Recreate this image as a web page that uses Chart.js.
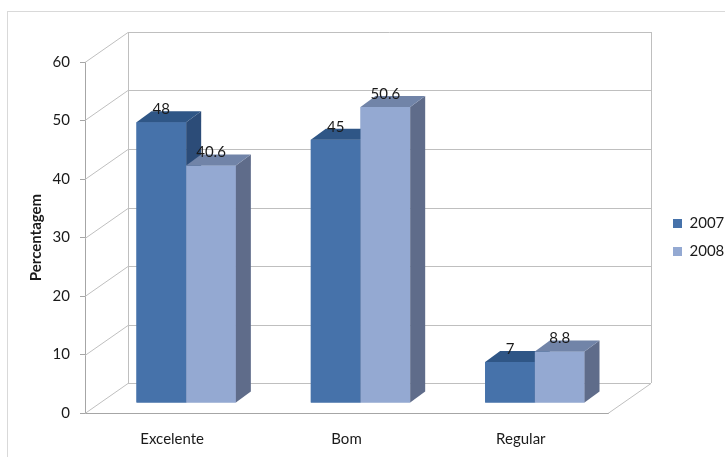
<!DOCTYPE html>
<html>
<head>
<meta charset="utf-8">
<script src="https://cdn.jsdelivr.net/npm/chart.js@4.4.1/dist/chart.umd.min.js"></script>
<style>
  body { margin: 0; background: #fff; }
  #wrap { width: 725px; height: 457px; }
</style>
</head>
<body>
<div id="wrap"><canvas id="grafico" width="725" height="457"></canvas></div>
<script>
// Dados do gráfico
const categorias = ['Excelente', 'Bom', 'Regular'];
const anos = ['2007', '2008'];
const valores2007 = [48, 45, 7];
const valores2008 = [40.6, 50.6, 8.8];
const marcasY = [0, 10, 20, 30, 40, 50, 60];

const FONTE = 'Lato, "Open Sans", sans-serif';
const COR_TEXTO = '#1a1a1a';
const COR_GRADE = '#bfbfbf';
const COR_EIXO = '#a6a6a6';

// profundidade total da caixa 3D e posição das barras nela
const PROF = { dx: 43, dy: -30 };
const PLANO_BARRAS = { dx: 14, dy: -10 };
const PROF_BARRA = { dx: 15, dy: -11 };

const cores = [
  { frente: '#4672aa', topo: '#2f5686', lado: '#2c4c78' },
  { frente: '#94a9d2', topo: '#7184a8', lado: '#5f6c8a' }
];

function faces3d(ctx, bar, cor) {
  const { x, y, base, width } = bar.getProps(['x', 'y', 'base', 'width'], true);
  const esq = x - width / 2;
  const dir = x + width / 2;
  const { dx, dy } = PROF_BARRA;
  ctx.fillStyle = cor.lado;
  ctx.beginPath();
  ctx.moveTo(dir, y);
  ctx.lineTo(dir + dx, y + dy);
  ctx.lineTo(dir + dx, base + dy);
  ctx.lineTo(dir, base);
  ctx.closePath();
  ctx.fill();
  ctx.fillStyle = cor.topo;
  ctx.beginPath();
  ctx.moveTo(esq, y);
  ctx.lineTo(esq + dx, y + dy);
  ctx.lineTo(dir + dx, y + dy);
  ctx.lineTo(dir, y);
  ctx.closePath();
  ctx.fill();
}

// Desenha paredes, chão e faces laterais/topo das barras
const caixa3d = {
  id: 'caixa3d',
  beforeDraw(chart) {
    const ctx = chart.ctx;
    ctx.save();
    ctx.strokeStyle = '#d9d9d9';
    ctx.lineWidth = 1;
    ctx.strokeRect(7.5, 11.5, 900, 600);
    ctx.restore();
  },
  beforeDatasetsDraw(chart) {
    const { ctx, chartArea: a, scales: { y } } = chart;
    ctx.save();
    ctx.strokeStyle = COR_GRADE;
    ctx.lineWidth = 1;
    ctx.beginPath();
    marcasY.forEach(v => {
      const py = Math.round(y.getPixelForValue(v)) + 0.5;
      // linha na parede do fundo
      ctx.moveTo(a.left + PROF.dx, py + PROF.dy);
      ctx.lineTo(a.right + PROF.dx, py + PROF.dy);
      // linha na parede lateral
      ctx.moveTo(a.left, py);
      ctx.lineTo(a.left + PROF.dx, py + PROF.dy);
    });
    const topo = Math.round(y.getPixelForValue(60)) + PROF.dy;
    const base = Math.round(y.getPixelForValue(0)) + PROF.dy;
    ctx.moveTo(a.left + PROF.dx + 0.5, topo);
    ctx.lineTo(a.left + PROF.dx + 0.5, base);
    ctx.moveTo(a.right + PROF.dx + 0.5, topo);
    ctx.lineTo(a.right + PROF.dx + 0.5, base);
    // aresta direita do chão
    ctx.moveTo(a.right, a.bottom + 0.5);
    ctx.lineTo(a.right + PROF.dx, a.bottom + 0.5 + PROF.dy);
    ctx.stroke();
    ctx.restore();

    // as barras ficam no plano do meio da caixa
    ctx.save();
    ctx.translate(PLANO_BARRAS.dx, PLANO_BARRAS.dy);
  },
  afterDatasetsDraw(chart) {
    const ctx = chart.ctx;
    const n = chart.data.labels.length;
    // redesenha cada grupo da esquerda para a direita, com as faces 3D
    for (let j = 0; j < n; j++) {
      chart.data.datasets.forEach((ds, i) => {
        const bar = chart.getDatasetMeta(i).data[j];
        bar.draw(ctx);
        faces3d(ctx, bar, cores[i]);
      });
    }
    // rótulos com os valores
    ctx.font = '15px ' + FONTE;
    ctx.fillStyle = COR_TEXTO;
    ctx.textAlign = 'center';
    ctx.textBaseline = 'middle';
    chart.data.datasets.forEach((ds, i) => {
      chart.getDatasetMeta(i).data.forEach((bar, j) => {
        ctx.fillText(String(ds.data[j]), bar.x, bar.y - 13);
      });
    });
    ctx.restore();
  }
};

new Chart(document.getElementById('grafico'), {
  type: 'bar',
  data: {
    labels: categorias,
    datasets: [
      { label: anos[0], data: valores2007, backgroundColor: cores[0].frente, clip: false },
      { label: anos[1], data: valores2008, backgroundColor: cores[1].frente, clip: false }
    ]
  },
  options: {
    responsive: false,
    animation: false,
    layout: { padding: { top: 62, left: 0, right: 0, bottom: 0 } },
    categoryPercentage: 0.57,
    barPercentage: 1,
    scales: {
      x: {
        grid: { display: false, drawTicks: false },
        border: { display: true, color: COR_EIXO },
        ticks: { padding: 17, color: COR_TEXTO, font: { family: FONTE, size: 15 } },
        afterFit(s) { s.height = 44; }
      },
      y: {
        min: 0,
        max: 60,
        ticks: { stepSize: 10, padding: 10, color: COR_TEXTO, font: { family: FONTE, size: 15 } },
        grid: { display: true, drawOnChartArea: false, drawTicks: true, tickLength: 5, color: COR_EIXO },
        border: { display: true, color: COR_EIXO },
        title: {
          display: true,
          text: 'Percentagem',
          color: COR_TEXTO,
          font: { family: FONTE, size: 15, weight: 'bold' },
          padding: { top: 27, bottom: 0 }
        },
        afterFit(s) { s.width = 85; }
      },
      espaco: {
        type: 'linear',
        position: 'right',
        display: true,
        grid: { display: false, drawTicks: false },
        border: { display: false },
        ticks: { display: false },
        afterFit(s) { s.width = 52; }
      }
    },
    plugins: {
      legend: {
        position: 'right',
        fullSize: false,
        maxWidth: 65,
        labels: {
          boxWidth: 9,
          boxHeight: 9,
          padding: 13,
          color: COR_TEXTO,
          font: { family: FONTE, size: 15 }
        }
      },
      tooltip: { enabled: false }
    }
  },
  plugins: [caixa3d]
});
</script>
</body>
</html>
